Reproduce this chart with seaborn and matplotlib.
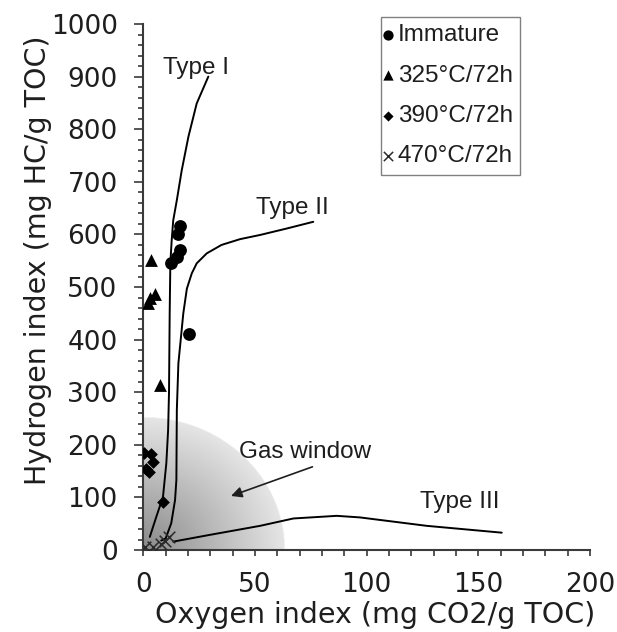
import numpy as np
import pandas as pd
import matplotlib
matplotlib.use("Agg")
import matplotlib.pyplot as plt
import seaborn as sns

# ------------------------------------------------------------------
# DATA
# ------------------------------------------------------------------
immature_oi = [16.5, 15.6, 16.5, 15.0, 12.3, 20.3]
immature_hi = [616, 600, 570, 558, 546, 411]

t325_oi = [3.6, 5.1, 2.8, 2.1, 7.5]
t325_hi = [551, 486, 480, 470, 314]

t390_oi = [0.3, 3.6, 4.4, 1.3, 2.4, 8.8]
t390_hi = [185, 182, 168, 154, 148, 92]

t470_oi = [0.8, 4.3, 8.0, 9.5, 11.7]
t470_hi = [5, 5, 12, 18, 24]

# kerogen type reference curves
type1_oi = [2.9, 5.8, 8.8, 10.3, 11.1, 11.5, 11.8, 12.1, 12.7, 13.4, 15.0, 17.2, 20.2, 23.9, 29.1]
type1_hi = [25, 63, 101, 165, 228, 300, 450, 546, 589, 627, 665, 722, 786, 849, 900]

type2_oi = [8.0, 10.0, 12.5, 14.2, 14.8, 15.0, 15.7, 17.9, 19.5, 21.7, 23.9, 28.4, 35.0, 43.3, 52.3, 64.0, 76.1]
type2_hi = [18, 22, 51, 95, 133, 266, 355, 450, 497, 526, 545, 564, 580, 591, 599, 611, 624]

type3_oi = [13.4, 30.0, 52.3, 67.2, 86.6, 97.0, 126.9, 160.5]
type3_hi = [16, 29, 46, 60, 65, 62, 46, 33]

gas_oi_max = 63.4
gas_hi_max = 251

groups = ["Immature", "325°C/72h", "390°C/72h", "470°C/72h"]

# ------------------------------------------------------------------
# STYLE
# ------------------------------------------------------------------
sns.set_style("ticks")
plt.rcParams["font.family"] = ["DejaVu Sans"]
TXT = "#1e1e1e"
ANN_FONT = ["Liberation Sans", "DejaVu Sans"]

df = pd.concat([
    pd.DataFrame({"oi": immature_oi, "hi": immature_hi, "sample": groups[0]}),
    pd.DataFrame({"oi": t325_oi, "hi": t325_hi, "sample": groups[1]}),
    pd.DataFrame({"oi": t390_oi, "hi": t390_hi, "sample": groups[2]}),
    pd.DataFrame({"oi": t470_oi, "hi": t470_hi, "sample": groups[3]}),
], ignore_index=True)

fig = plt.figure(figsize=(6.17, 6.32), dpi=100)
ax = fig.add_axes([0.2323, 0.1297, 0.7239, 0.8323])

# gas window: radial grey gradient in the lower-left corner
gx = np.linspace(0, gas_oi_max, 300)
gy = np.linspace(0, gas_hi_max, 300)
GX, GY = np.meshgrid(gx, gy)
r = np.sqrt((GX / gas_oi_max) ** 2 + (GY / gas_hi_max) ** 2)
grey = np.clip(0.54 + 0.36 * r, 0, 1)
rgba = np.dstack([grey, grey, grey, (r <= 1).astype(float)])
ax.imshow(rgba, extent=[0, gas_oi_max, 0, gas_hi_max], origin="lower",
          aspect="auto", zorder=0, interpolation="bilinear")

# kerogen curves
for xs, ys in [(type1_oi, type1_hi), (type2_oi, type2_hi), (type3_oi, type3_hi)]:
    sns.lineplot(x=xs, y=ys, sort=False, estimator=None, ax=ax,
                 color="black", lw=1.4, zorder=2)

# samples
styles = {
    groups[0]: dict(marker="o", s=85),
    groups[1]: dict(marker="^", s=85),
    groups[2]: dict(marker="D", s=42),
    groups[3]: dict(marker="x", s=70),
}
for g in groups:
    sub = df[df["sample"] == g]
    st = styles[g]
    if st["marker"] == "x":
        sns.scatterplot(data=sub, x="oi", y="hi", marker="x", s=st["s"],
                        color="#2a2a2a", linewidth=1.1, ax=ax, label=g, zorder=3)
    else:
        sns.scatterplot(data=sub, x="oi", y="hi", marker=st["marker"], s=st["s"],
                        color="black", edgecolor="black", linewidth=0, ax=ax,
                        label=g, zorder=3)

# annotations
ann_kw = dict(fontsize=17.5, color=TXT, family=ANN_FONT, ha="center", va="center")
ax.text(23.7, 916, "Type I", **ann_kw)
ax.text(66.6, 650, "Type II", **ann_kw)
ax.text(141.9, 91, "Type III", **ann_kw)
ax.text(72.3, 186, "Gas window", **ann_kw)
ax.annotate("", xy=(38.1, 101), xytext=(76.9, 160),
            arrowprops=dict(arrowstyle="-|>", color=TXT, lw=1.2, mutation_scale=16))

# axes
ax.set_xlim(0, 200)
ax.set_ylim(0, 1000)
ax.set_xticks(np.arange(0, 201, 50))
ax.set_xticks(np.arange(0, 201, 10), minor=True)
ax.set_yticks(np.arange(0, 1001, 100))
ax.set_yticks(np.arange(0, 1001, 20), minor=True)
for s in ["top", "right"]:
    ax.spines[s].set_visible(False)
for s in ["left", "bottom"]:
    ax.spines[s].set_color("#3a3a3a")
    ax.spines[s].set_linewidth(1.5)
ax.tick_params(axis="both", which="both", direction="out", colors="#3a3a3a",
               width=1.2, labelsize=19, labelcolor=TXT)
ax.tick_params(axis="y", which="major", length=6.5, pad=12)
ax.tick_params(axis="y", which="minor", length=3.5)
ax.tick_params(axis="x", which="major", length=4.5, pad=11)
ax.tick_params(axis="x", which="minor", length=4.5)
ax.set_xlabel("Oxygen index (mg CO2/g TOC)", fontsize=20.5, color=TXT)
ax.set_ylabel("Hydrogen index (mg HC/g TOC)", fontsize=20.5, color=TXT)
ax.xaxis.set_label_coords(0.519, -0.097)
ax.yaxis.set_label_coords(-0.205, 0.551)

leg = ax.legend(loc="upper left", bbox_to_anchor=(0.532, 1.013), frameon=True,
                fancybox=False, edgecolor="#808080", framealpha=1,
                prop={"family": ANN_FONT, "size": 17.5}, markerscale=0.8,
                handlelength=0.0, handletextpad=0.4, labelspacing=0.75,
                borderpad=0.3, borderaxespad=0)
leg.get_frame().set_linewidth(1.0)
for t in leg.get_texts():
    t.set_color(TXT)

fig.savefig("out.png", dpi=100)
